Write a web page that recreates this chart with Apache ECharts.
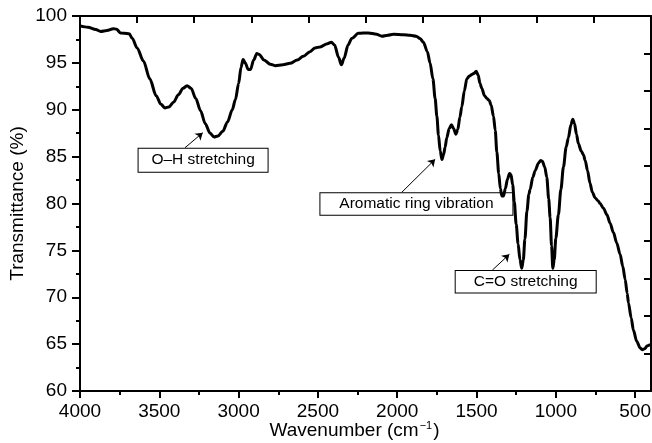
<!DOCTYPE html>
<html>
<head>
<meta charset="utf-8">
<script src="https://cdn.jsdelivr.net/npm/echarts@6/dist/echarts.min.js"></script>
<style>
  html, body { margin: 0; padding: 0; background: #fff; }
  #chart { width: 652px; height: 443px; }
</style>
</head>
<body>
<div id="chart"></div>
<script>
// FTIR spectrum: wavenumber (cm^-1) and transmittance (%)
const wavenumber = [
  4000, 3950, 3900, 3870, 3830, 3790, 3770, 3745, 3720, 3690,
  3670, 3640, 3600, 3560, 3520, 3490, 3465, 3440, 3410, 3380,
  3350, 3325, 3300, 3270, 3240, 3210, 3180, 3155, 3130, 3100,
  3070, 3040, 3020, 3000, 2985, 2972, 2958, 2940, 2925, 2905,
  2885, 2870, 2840, 2800, 2770, 2720, 2676, 2630, 2592, 2550,
  2518, 2486, 2440, 2415, 2395, 2370, 2352, 2335, 2310, 2287,
  2245, 2182, 2130, 2097, 2060, 2024, 1960, 1919, 1880, 1856,
  1835, 1810, 1793, 1775, 1761, 1750, 1740, 1729, 1718, 1708,
  1698, 1688, 1672, 1658, 1645, 1630, 1618, 1605, 1593, 1577,
  1561, 1545, 1530, 1515, 1502, 1490, 1478, 1467, 1450, 1435,
  1420, 1408, 1393, 1382, 1372, 1360, 1350, 1340, 1330, 1318,
  1305, 1292, 1283, 1272, 1262, 1250, 1238, 1226, 1215, 1205,
  1195, 1182, 1170, 1162, 1145, 1130, 1110, 1095, 1085, 1070,
  1057, 1045, 1036, 1027, 1019, 1010, 1000, 984, 968, 952,
  935, 921, 905, 893, 882, 870, 858, 840, 826, 815,
  800, 785, 770, 752, 735, 721, 700, 678, 658, 637,
  616, 595, 578, 563, 550, 542, 525, 511, 490, 469,
  455, 440, 425, 410, 400
];
const transmittance = [
  98.95, 98.8, 98.55, 98.35, 98.45, 98.65, 98.6, 98.2, 98.15, 98.1,
  97.6, 96.6, 95.2, 93.3, 91.5, 90.6, 90.2, 90.3, 90.8, 91.6,
  92.3, 92.55, 92.3, 91.2, 89.9, 88.5, 87.5, 87.1, 87.2, 87.7,
  88.7, 90.0, 91.1, 92.8, 94.5, 95.35, 95.0, 94.3, 94.3, 95.3,
  96.0, 95.9, 95.3, 94.85, 94.7, 94.8, 94.95, 95.3, 95.7, 96.2,
  96.6, 96.7, 97.05, 97.2, 96.9, 95.6, 94.8, 95.5, 96.9, 97.6,
  98.15, 98.2, 98.05, 97.85, 97.95, 98.05, 98.0, 97.95, 97.85, 97.6,
  97.2, 96.2, 95.0, 93.3, 91.2, 89.3, 87.3, 85.6, 84.7, 85.2,
  86.0, 87.0, 88.0, 88.4, 88.0, 87.4, 87.9, 89.2, 90.3, 92.0,
  93.3, 93.6, 93.75, 93.9, 94.1, 93.7, 92.8, 92.3, 91.5, 91.2,
  91.0, 90.5, 89.3, 87.8, 85.5, 83.2, 81.6, 80.8, 80.8, 81.6,
  82.6, 83.2, 83.1, 82.0, 80.2, 77.8, 75.7, 74.0, 73.1, 74.0,
  76.2, 79.2, 81.0, 81.5, 82.8, 83.5, 84.3, 84.6, 84.5, 83.9,
  82.8, 80.5, 78.5, 75.5, 73.1, 74.0, 76.3, 78.8, 81.5, 83.9,
  86.0, 87.0, 88.4, 89.0, 88.5, 87.4, 86.4, 85.6, 85.2, 84.6,
  83.5, 82.2, 81.2, 80.6, 80.3, 80.0, 79.5, 78.8, 77.9, 76.9,
  75.8, 74.6, 73.3, 71.9, 70.4, 69.4, 67.8, 66.5, 65.3, 64.6,
  64.4, 64.5, 64.8, 64.9, 64.95
];

// Axis ticks (wavenumber axis runs high to low)
const xTickValues = [4000, 3500, 3000, 2500, 2000, 1500, 1000, 500];
const xMinorTickValues = [3750, 3250, 2750, 2250, 1750, 1250, 750];

// Band assignments
const bandLabels = ['O–H stretching', 'Aromatic ring vibration', 'C=O stretching'];

const FONT = 'Liberation Sans, Arial, Helvetica, sans-serif';
const INK = '#000';

const spectrum = wavenumber.map((w, i) => [w, transmittance[i]]);

// Label boxes and their pointers, placed in data coordinates
const notes = [
  { box: [3224, 84.62], size: [129, 23],   from: [3338, 85.95], to: [3226, 87.55] },
  { box: [1879, 79.95], size: [192, 21.5], from: [1971, 81.2],  to: [1761, 84.71] },
  { box: [1190, 71.66], size: [140, 21.5], from: [1400, 72.9],  to: [1293, 74.58] }
];

const plain = v => String(v);

const chart = echarts.init(document.getElementById('chart'), null, { renderer: 'canvas' });

chart.setOption({
  animation: false,
  backgroundColor: '#fff',
  textStyle: { fontFamily: FONT, color: INK },
  grid: { left: 80, right: 1, top: 16, bottom: 52, containLabel: false, outerBoundsMode: 'none' },
  xAxis: [
    {
      type: 'value',
      inverse: true,
      min: 400,
      max: 4000,
      position: 'bottom',
      name: 'Wavenumber (cm{sup|−1})',
      nameLocation: 'middle',
      nameGap: 29,
      nameMoveOverlap: false,
      nameTextStyle: {
        fontFamily: FONT, fontSize: 19, color: INK, padding: [0, 22, 0, 0],
        rich: { sup: { fontFamily: FONT, fontSize: 11, color: INK, padding: [0, 1, 10, 1] } }
      },
      axisLine: { show: true, onZero: false, lineStyle: { color: INK, width: 2 } },
      axisTick: { show: true, inside: false, length: 7, customValues: xTickValues, lineStyle: { color: INK, width: 2 } },
      axisLabel: { show: true, margin: 11, fontSize: 19, fontFamily: FONT, color: INK, customValues: xTickValues, formatter: plain, hideOverlap: false },
      splitLine: { show: false }
    },
    {
      // short minor ticks between the labelled wavenumbers
      type: 'value',
      inverse: true,
      min: 400,
      max: 4000,
      position: 'bottom',
      axisLine: { show: false },
      axisTick: { show: true, inside: false, length: 4, customValues: xMinorTickValues, lineStyle: { color: INK, width: 2 } },
      axisLabel: { show: false },
      splitLine: { show: false }
    },
    {
      // frame top edge with inward ticks
      type: 'value',
      min: 0,
      max: 10,
      interval: 1,
      position: 'top',
      axisLine: { show: true, onZero: false, lineStyle: { color: INK, width: 2 } },
      axisTick: { show: true, inside: true, length: 7, lineStyle: { color: INK, width: 2 } },
      axisLabel: { show: false },
      splitLine: { show: false }
    }
  ],
  yAxis: [
    {
      type: 'value',
      min: 60,
      max: 100,
      interval: 5,
      position: 'left',
      name: 'Transmittance (%)',
      nameLocation: 'middle',
      nameGap: 53,
      nameMoveOverlap: false,
      nameTextStyle: { fontFamily: FONT, fontSize: 19, color: INK },
      axisLine: { show: true, onZero: false, lineStyle: { color: INK, width: 2 } },
      axisTick: { show: true, inside: false, length: 8, lineStyle: { color: INK, width: 2 } },
      minorTick: { show: true, splitNumber: 2, length: 4, lineStyle: { color: INK, width: 2 } },
      axisLabel: { show: true, margin: 13, fontSize: 19, fontFamily: FONT, color: INK, formatter: plain },
      splitLine: { show: false },
      minorSplitLine: { show: false }
    },
    {
      // frame right edge with inward ticks
      type: 'value',
      min: 0,
      max: 10,
      interval: 1,
      position: 'right',
      axisLine: { show: true, onZero: false, lineStyle: { color: INK, width: 2 } },
      axisTick: { show: true, inside: true, length: 7, lineStyle: { color: INK, width: 2 } },
      axisLabel: { show: false },
      splitLine: { show: false }
    }
  ],
  series: [
    {
      name: 'Spectrum',
      type: 'line',
      xAxisIndex: 0,
      yAxisIndex: 0,
      z: 3,
      data: spectrum,
      showSymbol: false,
      smooth: 0.3,
      smoothMonotone: 'x',
      lineStyle: { color: INK, width: 3 },
      markPoint: {
        z: 1,
        silent: true,
        symbol: 'circle',
        symbolSize: 0,
        data: notes.map((n, i) => ({
          name: bandLabels[i],
          coord: n.box,
          symbolSize: 0,
          label: {
            show: true, position: 'inside', formatter: bandLabels[i],
            fontFamily: FONT, fontSize: 15.5, color: INK,
            width: n.size[0], height: n.size[1], lineHeight: n.size[1],
            align: 'center', verticalAlign: 'middle', padding: 0,
            backgroundColor: '#fff', borderColor: INK, borderWidth: 1
          }
        }))
      },
      markLine: {
        silent: true,
        symbol: ['none', 'arrow'],
        symbolSize: 7,
        label: { show: false },
        lineStyle: { color: INK, width: 1, type: 'solid' },
        data: notes.map(n => [{ coord: n.from }, { coord: n.to }])
      }
    }
  ]
});
</script>
</body>
</html>
